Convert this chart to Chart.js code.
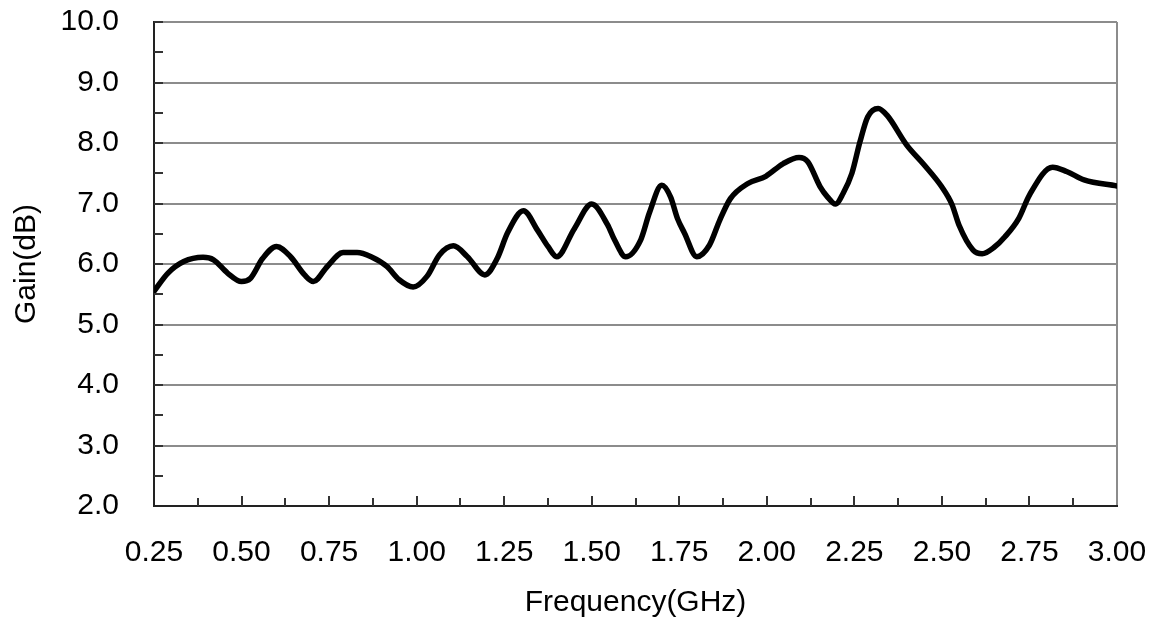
<!DOCTYPE html>
<html>
<head>
<meta charset="utf-8">
<script src="https://cdn.jsdelivr.net/npm/chart.js@4.4.1/dist/chart.umd.min.js"></script>
<style>
    body { margin: 0; background: #fff; }
    .wrap { width: 1152px; height: 625px; position: relative; }
</style>
</head>
<body>
<div class="wrap"><canvas id="myChart"></canvas></div>
<script>
// frequency (GHz) and gain (dB)
let freq = [0.25, 0.29, 0.335, 0.39, 0.42, 0.46, 0.50, 0.525, 0.56, 0.60, 0.64, 0.68, 0.705, 0.745, 0.79, 0.83, 0.87, 0.915, 0.95, 0.99,
    1.03, 1.065, 1.105, 1.145, 1.195, 1.23, 1.26, 1.305, 1.345, 1.375, 1.40, 1.45, 1.50, 1.545, 1.565, 1.597, 1.64, 1.665, 1.70, 1.725,
    1.745, 1.765, 1.80, 1.836, 1.866, 1.896, 1.946, 1.997, 2.047, 2.092, 2.117, 2.152, 2.173, 2.196, 2.218, 2.243, 2.266, 2.288, 2.318, 2.343,
    2.399, 2.449, 2.499, 2.529, 2.549, 2.589, 2.615, 2.65, 2.68, 2.72, 2.75, 2.816, 2.856, 2.906, 3.00]
let gain = [5.55, 5.85, 6.04, 6.11, 6.07, 5.85, 5.71, 5.76, 6.09, 6.29, 6.12, 5.82, 5.71, 5.96, 6.19, 6.19, 6.12, 5.96, 5.74, 5.62,
    5.80, 6.15, 6.30, 6.12, 5.82, 6.09, 6.52, 6.88, 6.56, 6.29, 6.12, 6.58, 6.99, 6.65, 6.40, 6.12, 6.40, 6.85, 7.30, 7.11,
    6.75, 6.51, 6.12, 6.31, 6.73, 7.08, 7.33, 7.45, 7.66, 7.76, 7.69, 7.28, 7.11, 6.99, 7.17, 7.50, 8.02, 8.43, 8.57, 8.46,
    7.97, 7.64, 7.28, 6.98, 6.64, 6.23, 6.17, 6.28, 6.45, 6.76, 7.14, 7.60, 7.53, 7.39, 7.29]

let xMin = 0.25, xMax = 3.0, xStep = 0.25, xMinorStep = 0.125
let yMin = 2, yMax = 10, yStep = 1, yMinorStep = 0.5

let points = freq.map((f, i) => ({ x: f, y: gain[i] }))

// inward tick marks, like the original
let innerTicks = {
    id: 'innerTicks',
    afterDraw(chart) {
        let c = chart.ctx
        let xs = chart.scales.x
        let ys = chart.scales.y
        let area = chart.chartArea
        c.save()
        c.strokeStyle = '#333'
        c.lineWidth = 2
        for (let v = xMin + xMinorStep; v < xMax - 1e-6; v += xMinorStep) {
            let px = Math.round(xs.getPixelForValue(v))
            let major = Math.abs(v / xStep - Math.round(v / xStep)) < 1e-6
            c.beginPath()
            c.moveTo(px, area.bottom)
            c.lineTo(px, area.bottom - (major ? 10 : 8))
            c.stroke()
        }
        for (let v = yMin + yMinorStep; v < yMax + 1e-6; v += yMinorStep) {
            let py = Math.round(ys.getPixelForValue(v))
            c.beginPath()
            c.moveTo(area.left, py)
            c.lineTo(area.left + 9, py)
            c.stroke()
        }
        c.restore()
    }
}

// keep the plot box where the original has it: no extra label overflow padding
function noOverflow(scale) {
    scale.paddingTop = 0
    scale.paddingBottom = 0
    scale.paddingLeft = 0
    scale.paddingRight = 0
}

let font = { family: "'Liberation Sans', Arial, sans-serif", size: 30 }

let ctx = document.querySelector('#myChart').getContext('2d')
let myChart = new Chart(ctx, {
    type: 'line',
    data: {
        datasets: [{
            label: 'Gain',
            data: points,
            borderColor: '#000',
            borderWidth: 5.5,
            pointRadius: 0,
            cubicInterpolationMode: 'monotone',
            borderJoinStyle: 'round',
            borderCapStyle: 'round',
            fill: false
        }]
    },
    options: {
        responsive: true,
        maintainAspectRatio: false,
        animation: false,
        layout: {
            padding: { top: 22, right: 35, left: 0, bottom: 0 }
        },
        plugins: {
            legend: { display: false },
            tooltip: { enabled: false }
        },
        scales: {
            x: {
                type: 'linear',
                min: xMin,
                max: xMax,
                afterFit(scale) { scale.height = 119; noOverflow(scale) },
                border: { color: '#222', width: 2 },
                grid: {
                    drawTicks: false,
                    lineWidth: 2,
                    color: c => (c.tick && Math.abs(c.tick.value - xMax) < 1e-6) ? '#8c8c8c' : 'rgba(0,0,0,0)'
                },
                ticks: {
                    stepSize: xStep,
                    padding: 29,
                    color: '#000',
                    font: font,
                    maxRotation: 0,
                    callback: v => v.toFixed(2)
                },
                title: {
                    display: true,
                    text: 'Frequency(GHz)',
                    color: '#000',
                    font: font,
                    padding: { top: 0, bottom: 4 }
                }
            },
            y: {
                min: yMin,
                max: yMax,
                afterFit(scale) { scale.width = 154; noOverflow(scale) },
                border: { color: '#222', width: 2 },
                grid: {
                    drawTicks: false,
                    color: '#8c8c8c',
                    lineWidth: 2
                },
                ticks: {
                    stepSize: yStep,
                    padding: 35,
                    color: '#000',
                    font: font,
                    callback: v => v.toFixed(1)
                },
                title: {
                    display: true,
                    text: 'Gain(dB)',
                    color: '#000',
                    font: font,
                    padding: { top: 9, bottom: 0 }
                }
            }
        }
    },
    plugins: [innerTicks]
})
</script>
</body>
</html>
